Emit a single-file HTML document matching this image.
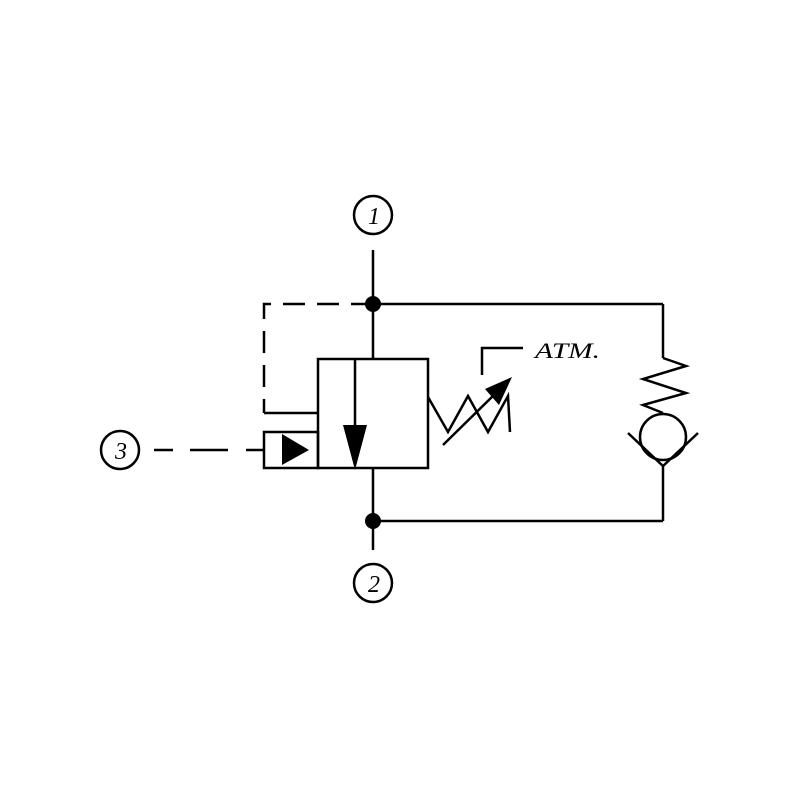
<!DOCTYPE html>
<html><head><style>html,body{margin:0;padding:0;background:#fff}</style></head>
<body>
<svg width="800" height="800" xmlns="http://www.w3.org/2000/svg" style="display:block">
<g stroke="#000" stroke-width="2.5" fill="none">
  <circle cx="373" cy="215" r="19"/>
  <circle cx="373" cy="583" r="19"/>
  <circle cx="120" cy="450" r="19"/>
  <line x1="373" y1="250" x2="373" y2="359"/>
  <line x1="373" y1="468" x2="373" y2="550"/>
  <line x1="373" y1="304" x2="663" y2="304"/>
  <line x1="373" y1="521" x2="663" y2="521"/>
  <line x1="663" y1="304" x2="663" y2="358"/>
  <line x1="663" y1="466" x2="663" y2="521"/>
  <path d="M373 304 H264 V413" stroke-dasharray="22,12"/>
  <line x1="264" y1="413" x2="318" y2="413"/>
  <rect x="318" y="359" width="110" height="109"/>
  <line x1="355" y1="359" x2="355" y2="430"/>
  <rect x="264" y="432" width="54" height="36"/>
  <line x1="154" y1="450" x2="173" y2="450"/>
  <line x1="190" y1="450" x2="228" y2="450"/>
  <line x1="246" y1="450" x2="264" y2="450"/>
  <polyline points="428,397 448,432 468,396 488,432 508,396 510,432"/>
  <line x1="443" y1="445" x2="497" y2="392"/>
  <polyline points="482,375 482,348 523,348"/>
  <polyline points="663,358 686,366 643,379 686,393 643,405 663,413"/>
  <circle cx="663" cy="437" r="23"/>
  <polyline points="628,433 663,466 698,433"/>
</g>
<g fill="#000">
  <circle cx="373" cy="304" r="8"/>
  <circle cx="373" cy="521" r="8"/>
  <polygon points="343,425 367,425 355,470"/>
  <polygon points="282,434 309,450 282,465"/>
  <polygon points="512,377 485,389 499,405"/>
</g>
<g font-family="Liberation Serif, serif" font-style="italic" fill="#000">
  <text x="374" y="224" font-size="24" text-anchor="middle">1</text>
  <text x="374" y="592" font-size="24" text-anchor="middle">2</text>
  <text x="121" y="459" font-size="24" text-anchor="middle">3</text>
  <text x="535" y="358" font-size="22" textLength="65" lengthAdjust="spacingAndGlyphs">ATM.</text>
</g>
</svg>
</body></html>
